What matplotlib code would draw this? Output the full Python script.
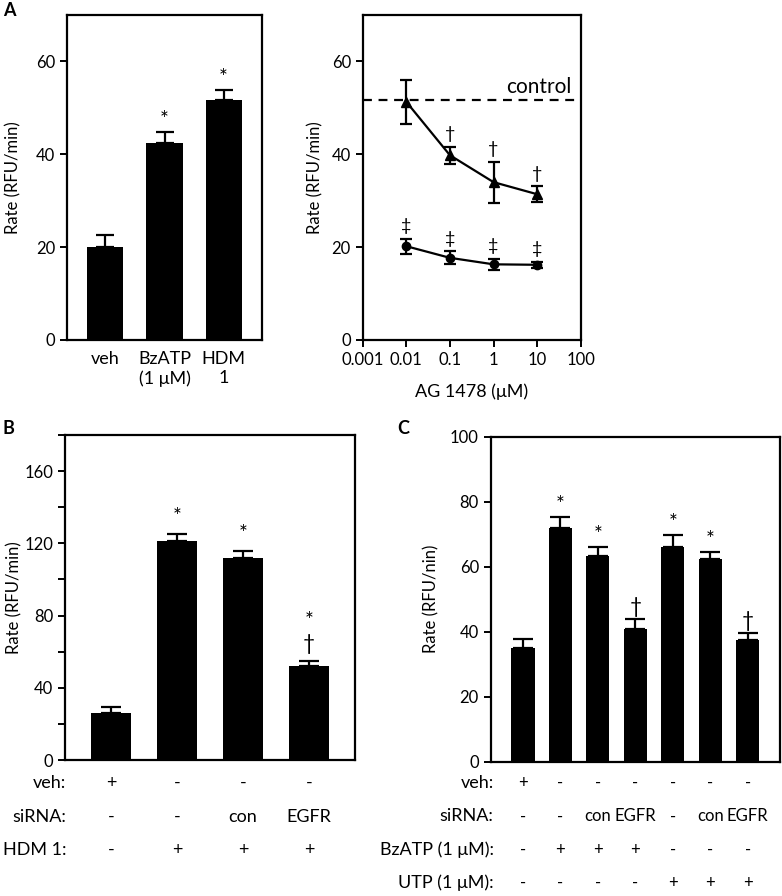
import matplotlib
matplotlib.use("Agg")
import matplotlib.pyplot as plt
import numpy as np
from matplotlib.ticker import LogLocator, NullFormatter, MultipleLocator

plt.rcParams['font.family'] = ['Lato', 'DejaVu Sans']
plt.rcParams['axes.linewidth'] = 1.6
plt.rcParams['xtick.major.width'] = 1.4
plt.rcParams['ytick.major.width'] = 1.4
plt.rcParams['ytick.minor.width'] = 1.4
plt.rcParams['xtick.minor.width'] = 1.0

# panel A, left: bars
a_labels = ["veh", "BzATP\n(1 \u03bcM)", "HDM\n1"]
a_vals = [20.0, 42.5, 51.7]
a_err = [2.6, 2.3, 2.1]
a_marks = ["", "*", "*"]

# panel A, right: AG 1478 dose response
ag_conc = [0.01, 0.1, 1, 10]
ag_tri = [51.3, 39.8, 34.0, 31.4]
ag_tri_err = [4.8, 1.8, 4.4, 1.7]
ag_tri_marks = ["", "\u2020", "\u2020", "\u2020"]
ag_circ = [20.2, 17.7, 16.3, 16.2]
ag_circ_err = [1.6, 1.4, 1.2, 0.7]
ag_circ_marks = ["\u2021", "\u2021", "\u2021", "\u2021"]
control_level = 51.7

# panel B
b_vals = [25.8, 121.3, 112.1, 52.0]
b_err = [3.7, 3.9, 3.5, 2.6]
b_marks = ["", "*", "*", "*\n\u2020"]
b_rows = {"veh:": ["+", "-", "-", "-"],
          "siRNA:": ["-", "-", "con", "EGFR"],
          "HDM 1:": ["-", "+", "+", "+"]}

# panel C
c_vals = [35.1, 71.8, 63.4, 40.9, 66.2, 62.3, 37.4]
c_err = [2.6, 3.4, 2.8, 2.9, 3.7, 2.2, 2.1]
c_marks = ["", "*", "*", "\u2020", "*", "*", "\u2020"]
c_rows = {"veh:": ["+", "-", "-", "-", "-", "-", "-"],
          "siRNA:": ["-", "-", "con", "EGFR", "-", "con", "EGFR"],
          "BzATP (1 \u03bcM):": ["-", "+", "+", "+", "-", "-", "-"],
          "UTP (1 \u03bcM):": ["-", "-", "-", "-", "+", "+", "+"]}

fig = plt.figure(figsize=(7.82, 8.96), dpi=100)
W, H = 782, 896


def px_axes(x0, x1, y0, y1):
    return fig.add_axes([x0 / W, (H - y1) / H, (x1 - x0) / W, (y1 - y0) / H])


def style(ax, ylabel, lx):
    ax.tick_params(axis='both', direction='out', length=5, labelsize=12)
    ax.tick_params(axis='y', which='minor', direction='out', length=5)
    ax.set_ylabel(ylabel, fontsize=12, va='center')
    ax.yaxis.set_label_coords(lx, 0.5)


def bar_panel(ax, vals, err, marks, width, cap, lift, fs=15, ls=1.0):
    x = np.arange(len(vals))
    ax.bar(x, vals, width=width, color='black', zorder=2)
    ax.errorbar(x, vals, yerr=[np.zeros(len(vals)), err], fmt='none',
                ecolor='black', elinewidth=1.6, capsize=cap, capthick=1.6,
                zorder=3)
    for xi, v, e, m in zip(x, vals, err, marks):
        if m:
            ax.text(xi, v + e + lift, m, ha='center', va='bottom',
                    fontsize=fs, linespacing=ls)
    return x


# ---- A left
axA = px_axes(67, 262, 15, 340)
xa = bar_panel(axA, a_vals, a_err, a_marks, 0.61, 6.5, 0.4)
axA.set_xlim(-0.65, 2.65)
axA.set_ylim(0, 70)
axA.set_yticks([0, 20, 40, 60])
axA.set_xticks(xa)
style(axA, "Rate (RFU/min)", -0.277)
axA.set_xticklabels(a_labels, fontsize=13, linespacing=1.25)
axA.tick_params(axis='x', length=0, pad=8, labelsize=13)

# ---- A right
axR = px_axes(362.7, 580.7, 15, 340)
axR.set_xscale('log')
axR.errorbar(ag_conc, ag_tri, yerr=ag_tri_err, fmt='-^', color='black',
             ms=7.5, lw=1.6, elinewidth=1.6, capsize=4.5, capthick=1.6, zorder=3)
axR.errorbar(ag_conc, ag_circ, yerr=ag_circ_err, fmt='-o', color='black',
             ms=6, lw=1.6, elinewidth=1.6, capsize=4.5, capthick=1.6, zorder=3)
for xc, v, e, m in zip(ag_conc, ag_tri, ag_tri_err, ag_tri_marks):
    if m:
        axR.text(xc, v + e + 1.0, m, ha='center', va='bottom', fontsize=13)
for xc, v, e, m in zip(ag_conc, ag_circ, ag_circ_err, ag_circ_marks):
    if m:
        axR.text(xc, v + e + 1.0, m, ha='center', va='bottom', fontsize=13)
axR.axhline(control_level, color='black', lw=1.6, ls=(0, (4, 3)), zorder=1)
axR.text(60, control_level + 0.6, "control", ha='right', va='bottom', fontsize=15)
axR.set_xlim(0.001, 100)
axR.set_ylim(0, 70)
axR.set_yticks([0, 20, 40, 60])
axR.set_xticks([0.001, 0.01, 0.1, 1, 10, 100])
axR.set_xticklabels(["0.001", "0.01", "0.1", "1", "10", "100"])
axR.xaxis.set_minor_locator(LogLocator(base=10, subs=np.arange(2, 10)))
axR.xaxis.set_minor_formatter(NullFormatter())
axR.tick_params(axis='x', which='minor', direction='out', length=3)
style(axR, "Rate (RFU/min)", -0.219)
axR.set_xlabel("AG 1478 (\u03bcM)", fontsize=13, labelpad=11)

# ---- B
axB = px_axes(65, 355, 435, 760)
xb = bar_panel(axB, b_vals, b_err, b_marks, 0.6, 7, 4.0, ls=1.2)
axB.set_xlim(-0.7, 3.7)
axB.set_ylim(0, 180)
axB.set_yticks([0, 40, 80, 120, 160])
axB.yaxis.set_minor_locator(MultipleLocator(20))
axB.set_xticks([])
style(axB, "Rate (RFU/min)", -0.176)
for i, (lab, entries) in enumerate(b_rows.items()):
    yy = -0.071 - 0.103 * i
    axB.text(0.005, yy, lab, transform=axB.transAxes, ha='right',
             va='center', fontsize=13)
    for xi, e in zip(xb, entries):
        axB.text(xi, yy, e, transform=axB.get_xaxis_transform(),
                 ha='center', va='center', fontsize=13)

# ---- C
axC = px_axes(490.7, 780, 436.7, 761.7)
xc_ = bar_panel(axC, c_vals, c_err, c_marks, 0.62, 7, 0.6)
axC.set_xlim(-0.86, 6.86)
axC.set_ylim(0, 100)
axC.set_yticks([0, 20, 40, 60, 80, 100])
axC.set_xticks([])
style(axC, "Rate (RFU/nin)", -0.204)
for i, (lab, entries) in enumerate(c_rows.items()):
    yy = -0.066 - 0.1025 * i
    axC.text(0.01, yy, lab, transform=axC.transAxes, ha='right',
             va='center', fontsize=13)
    for xi, e in zip(xc_, entries):
        axC.text(xi, yy, e, transform=axC.get_xaxis_transform(),
                 ha='center', va='center', fontsize=12)

# panel letters
fig.text(3 / W, 1 - 11 / H, "A", fontsize=13, fontweight='bold', va='center')
fig.text(3 / W, 1 - 428 / H, "B", fontsize=13, fontweight='bold', va='center')
fig.text(397 / W, 1 - 428 / H, "C", fontsize=13, fontweight='bold', va='center')

fig.savefig("out.png", dpi=100)
